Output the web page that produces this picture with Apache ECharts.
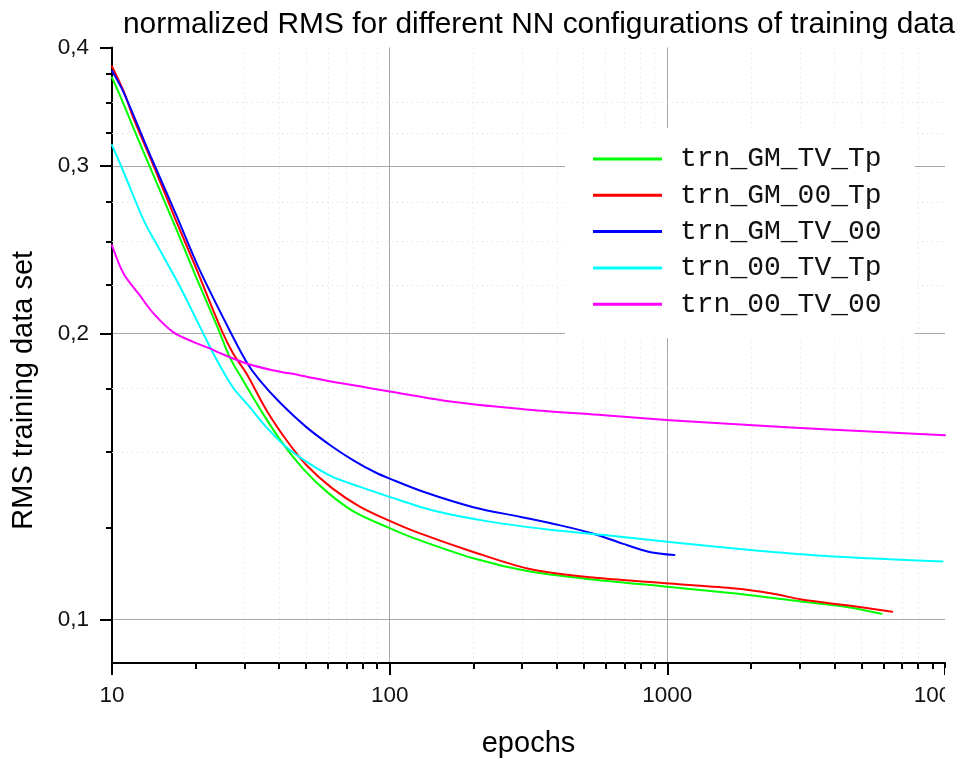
<!DOCTYPE html>
<html>
<head>
<meta charset="utf-8">
<script src="https://cdn.jsdelivr.net/npm/echarts@6/dist/echarts.min.js"></script>
<style>
html,body{margin:0;padding:0;background:#fff;overflow:hidden;width:963px;height:759px;}
#chart{width:963px;height:759px;}
</style>
</head>
<body>
<div id="chart"></div>
<script>
// ---- data (epochs, normalized RMS) ----
const seriesNames = ['trn_GM_TV_Tp', 'trn_GM_00_Tp', 'trn_GM_TV_00', 'trn_00_TV_Tp', 'trn_00_TV_00'];
const seriesColors = ['#00ff00', '#ff0000', '#0000ff', '#00ffff', '#ff00ff'];

const epochsGMTVTp = [10, 11, 12, 14, 17, 20, 24, 26.5, 29.6, 35, 41, 49, 59, 74, 100, 125, 200, 316, 505, 1020, 1760, 2780, 4430, 5900];
const rmsGMTVTp    = [0.372, 0.349, 0.328, 0.295, 0.258, 0.230, 0.203, 0.189, 0.1786, 0.1646, 0.1535, 0.1439, 0.1365, 0.1300, 0.1248, 0.1215, 0.1160, 0.1124, 0.1104, 0.1082, 0.1065, 0.1048, 0.1031, 0.1014];

const epochsGM00Tp = [10, 11, 12, 14, 17, 20, 24.8, 27.3, 30.5, 36, 42.4, 50, 62, 78, 100, 125, 200, 316, 505, 1020, 1760, 2380, 3040, 4430, 6450];
const rmsGM00Tp    = [0.382, 0.360, 0.336, 0.302, 0.263, 0.235, 0.2016, 0.1905, 0.1815, 0.1661, 0.1546, 0.1455, 0.1375, 0.1315, 0.1270, 0.1236, 0.1178, 0.1131, 0.1109, 0.1091, 0.1078, 0.1065, 0.1050, 0.1035, 0.1019];

const epochsGMTV00 = [10, 11, 14, 17, 20.7, 26.5, 30.5, 34, 40, 50, 62, 74, 89, 100, 133, 200, 297, 408, 538, 690, 862, 1060];
const rmsGMTV00    = [0.378, 0.359, 0.304, 0.267, 0.2332, 0.2016, 0.1867, 0.1786, 0.1695, 0.1595, 0.1521, 0.1471, 0.1428, 0.1407, 0.1362, 0.1313, 0.1282, 0.1257, 0.1232, 0.1202, 0.1178, 0.1169];

const epochs00TVTp = [10, 11, 13, 15.1, 17.6, 20.7, 23.4, 27.2, 31.3, 35.9, 42.4, 51.4, 62.3, 77.9, 100, 146, 232, 371, 593, 1020, 2035, 3825, 9800];
const rms00TVTp    = [0.3157, 0.296, 0.2633, 0.2429, 0.2239, 0.2035, 0.1895, 0.1757, 0.1674, 0.1595, 0.1519, 0.1459, 0.1413, 0.1380, 0.1346, 0.1301, 0.1267, 0.1244, 0.1227, 0.1207, 0.1183, 0.1166, 0.1151];

const epochs00TV00 = [10, 11, 12.5, 14.1, 16.6, 19.6, 22.5, 24.4, 30.5, 37.9, 47.3, 62.3, 82.2, 100, 171, 316, 593, 1020, 2035, 3825, 10000];
const rms00TV00    = [0.2477, 0.2313, 0.220, 0.210, 0.2007, 0.196, 0.1929, 0.1908, 0.186, 0.183, 0.1808, 0.1779, 0.1755, 0.1738, 0.1694, 0.1663, 0.1641, 0.1621, 0.1601, 0.1585, 0.1563];

// ---- axes ticks ----
const xMajorTicks = [10, 100, 1000, 10000];
const xMinorTicks = [20, 30, 40, 50, 60, 70, 80, 90, 200, 300, 400, 500, 600, 700, 800, 900, 2000, 3000, 4000, 5000, 6000, 7000, 8000, 9000];
const yMajorTicks = [0.1, 0.2, 0.3, 0.4];
const yMinorTicks = [0.125, 0.15, 0.175, 0.225, 0.25, 0.275, 0.325, 0.35, 0.375];
const xRange = [10, 10000];
const yRange = [0.09, 0.4];

const epochsList = [epochsGMTVTp, epochsGM00Tp, epochsGMTV00, epochs00TVTp, epochs00TV00];
const rmsList = [rmsGMTVTp, rmsGM00Tp, rmsGMTV00, rms00TVTp, rms00TV00];

const FONT = 'Liberation Sans, Arial, sans-serif';

const chart = echarts.init(document.getElementById('chart'), null, {renderer: 'canvas', width: 963, height: 759});

const series = seriesNames.map((name, i) => ({
  name: name,
  type: 'line',
  xAxisIndex: 0,
  yAxisIndex: 0,
  data: epochsList[i].map((x, k) => [x, rmsList[i][k]]),
  showSymbol: false,
  symbol: 'none',
  smooth: 0.3,
  color: seriesColors[i],
  lineStyle: {width: 2, color: seriesColors[i], join: 'round', cap: 'round'},
  animation: false,
  z: 3
}));

const option = {
  animation: false,
  backgroundColor: '#fff',
  textStyle: {fontFamily: FONT},
  title: {
    text: 'normalized RMS for different NN configurations of training data',
    left: 123,
    top: 9.5,
    padding: 0,
    textStyle: {fontFamily: FONT, fontSize: 29.9, fontWeight: 'normal', color: '#000'}
  },
  grid: {left: 112, right: 18, top: 47.5, bottom: 96, containLabel: false, outerBoundsMode: 'none'},
  legend: {
    data: seriesNames,
    orient: 'vertical',
    left: 565,
    top: 128,
    padding: [17, 33, 20, 28],
    itemGap: 8.3,
    itemWidth: 69,
    itemHeight: 3,
    backgroundColor: '#fff',
    icon: 'rect',
    textStyle: {fontFamily: 'Liberation Mono, Courier New, monospace', fontSize: 28, color: '#111', padding: [0, 0, 0, 13], lineHeight: 28},
    z: 10
  },
  // the source image is cut at the right edge of the plot: the last tick label is clipped there
  graphic: [{
    type: 'rect', right: 0, top: 668, z: 100,
    shape: {width: 18, height: 50},
    style: {fill: '#fff'}
  }],
  xAxis: [
    {
      type: 'log', logBase: 10, min: xRange[0], max: xRange[1],
      position: 'bottom',
      name: 'epochs', nameLocation: 'middle', nameGap: 66,
      nameTextStyle: {fontFamily: FONT, fontSize: 29, color: '#000'},
      axisLine: {show: true, lineStyle: {color: '#000', width: 2}},
      axisTick: {show: true, inside: false, length: 12, customValues: xMajorTicks, lineStyle: {color: '#000', width: 2}},
      axisLabel: {show: true, customValues: xMajorTicks, margin: 21, fontFamily: FONT, fontSize: 22.5, color: '#111',
        formatter: v => String(v)},
      splitLine: {show: true, showMinLine: false, showMaxLine: false, lineStyle: {color: '#a8a8a8', width: 1}},
      minorTick: {show: false}, minorSplitLine: {show: false}
    },
    {
      type: 'log', logBase: 10, min: xRange[0], max: xRange[1],
      position: 'bottom',
      axisLine: {show: false},
      axisTick: {show: true, inside: false, length: 6, customValues: xMinorTicks, lineStyle: {color: '#000', width: 2}},
      axisLabel: {show: false},
      splitLine: {show: true, showMinLine: false, showMaxLine: false, lineStyle: {color: '#dcdcdc', width: 1, type: [1, 4]}},
      z: 1
    }
  ],
  yAxis: [
    {
      type: 'log', logBase: 10, min: yRange[0], max: yRange[1],
      position: 'left',
      name: 'RMS training data set', nameLocation: 'middle', nameGap: 74,
      nameTextStyle: {fontFamily: FONT, fontSize: 29, color: '#000', padding: [0, 70, 0, 0]},
      axisLine: {show: true, lineStyle: {color: '#000', width: 2}},
      axisTick: {show: true, inside: false, length: 12, customValues: yMajorTicks, lineStyle: {color: '#000', width: 2}},
      axisLabel: {show: true, customValues: yMajorTicks, margin: 23, fontFamily: FONT, fontSize: 22.5, color: '#111',
        formatter: v => String(v).replace('.', ',')},
      splitLine: {show: true, showMinLine: true, showMaxLine: false, lineStyle: {color: '#a8a8a8', width: 1}},
      minorTick: {show: false}, minorSplitLine: {show: false}
    },
    {
      type: 'log', logBase: 10, min: yRange[0], max: yRange[1],
      position: 'left',
      axisLine: {show: false},
      axisTick: {show: true, inside: false, length: 6, customValues: yMinorTicks, lineStyle: {color: '#000', width: 2}},
      axisLabel: {show: false},
      splitLine: {show: true, showMinLine: false, showMaxLine: false, lineStyle: {color: '#dcdcdc', width: 1, type: [1, 4]}},
      z: 1
    }
  ],
  series: series
};

chart.setOption(option);
</script>
</body>
</html>
